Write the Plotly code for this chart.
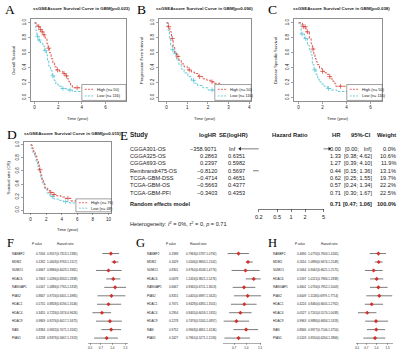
import numpy as np
import plotly.graph_objects as go

W, H = 400, 350
SANS = "Arial, Liberation Sans, Helvetica, sans-serif"
SERIF = "Times New Roman, Liberation Serif, serif"
RED = "#D9463B"
CYAN = "#58C4D5"
INK = "#1b1b1b"
BOX = "#444444"

# ---------------- A-D : Kaplan-Meier curves (time in years, survival) ----------------
A_high_t = [0, 0.15, 0.3, 0.45, 0.6, 0.75, 0.9, 1.05, 1.15, 1.25, 1.4, 1.55, 1.7, 1.85, 2.1, 2.4, 2.6, 2.75, 2.9, 3.05, 3.2, 4.3]
A_high_s = [1.0, 0.97, 0.95, 0.91, 0.88, 0.84, 0.79, 0.72, 0.66, 0.60, 0.52, 0.46, 0.41, 0.37, 0.35, 0.32, 0.29, 0.25, 0.21, 0.16, 0.13, 0.13]
A_high_c = [0.35, 0.5, 0.65, 0.8, 1.2, 1.95, 2.5, 2.7, 3.6]
A_low_t = [0, 0.1, 0.2, 0.3, 0.5, 0.7, 0.85, 1.0, 1.1, 1.2, 1.35, 1.5, 1.65, 1.8, 2.0, 2.3, 2.7, 3.2, 4.2]
A_low_s = [1.0, 0.90, 0.82, 0.77, 0.73, 0.69, 0.63, 0.57, 0.50, 0.42, 0.36, 0.29, 0.23, 0.18, 0.15, 0.12, 0.10, 0.08, 0.08]
A_low_c = [0.25, 0.4, 0.9, 1.55, 2.4, 3.0]

B_high_t = [0, 0.08, 0.16, 0.24, 0.32, 0.4, 0.48, 0.6, 0.71, 0.85, 1.03, 1.2, 1.35, 1.55, 1.75, 1.95, 2.14, 2.3, 2.6]
B_high_s = [1.0, 0.95, 0.88, 0.79, 0.67, 0.60, 0.55, 0.50, 0.45, 0.41, 0.37, 0.34, 0.32, 0.28, 0.25, 0.23, 0.21, 0.19, 0.19]
B_high_c = [0.1, 0.28, 0.55, 1.1, 1.6, 2.2]
B_low_t = [0, 0.08, 0.14, 0.2, 0.28, 0.37, 0.48, 0.6, 0.71, 0.85, 1.03, 1.2, 1.35, 1.5, 1.75, 2.0, 2.5, 3.0, 4.0]
B_low_s = [1.0, 0.90, 0.80, 0.70, 0.64, 0.59, 0.50, 0.44, 0.38, 0.33, 0.28, 0.23, 0.19, 0.16, 0.13, 0.10, 0.08, 0.06, 0.06]
B_low_c = [0.3, 0.45, 1.3, 2.2]

C_high_t = [0, 0.33, 0.63, 0.9, 1.05, 1.15, 1.27, 1.37, 1.47, 1.56, 1.75, 1.97, 2.2, 2.38, 2.55, 2.68, 2.82, 2.95, 3.1, 4.2]
C_high_s = [1.0, 0.95, 0.88, 0.79, 0.72, 0.65, 0.58, 0.52, 0.48, 0.44, 0.39, 0.35, 0.33, 0.31, 0.28, 0.25, 0.22, 0.19, 0.15, 0.15]
C_high_c = [0.4, 0.55, 0.75, 1.2, 2.0, 2.6, 3.5]
C_low_t = [0, 0.22, 0.5, 0.74, 0.9, 1.04, 1.15, 1.3, 1.45, 1.6, 1.72, 1.9, 2.13, 2.4, 2.68, 3.2, 4.2]
C_low_s = [1.0, 0.85, 0.79, 0.70, 0.64, 0.57, 0.44, 0.37, 0.31, 0.25, 0.21, 0.18, 0.15, 0.12, 0.10, 0.08, 0.08]
C_low_c = [0.3, 0.6, 1.35, 2.5]

D_high_t = [0, 0.2, 0.38, 0.6, 0.8, 1.0, 1.14, 1.3, 1.43, 1.65, 1.86, 2.2, 2.5, 2.9, 3.3, 3.9, 4.4, 5.2, 6.1, 7.0]
D_high_s = [1.0, 0.95, 0.90, 0.83, 0.77, 0.69, 0.62, 0.54, 0.47, 0.40, 0.34, 0.30, 0.27, 0.24, 0.22, 0.20, 0.18, 0.14, 0.10, 0.10]
D_high_c = [1.2, 2.6, 3.0, 4.8]
D_low_t = [0, 0.15, 0.3, 0.5, 0.7, 0.9, 1.1, 1.3, 1.5, 1.8, 2.1, 2.5, 3.0, 3.6, 4.2, 5.0, 6.0, 7.5, 9.0]
D_low_s = [1.0, 0.94, 0.88, 0.82, 0.75, 0.67, 0.58, 0.50, 0.42, 0.33, 0.26, 0.21, 0.17, 0.15, 0.13, 0.11, 0.09, 0.07, 0.07]
D_low_c = [2.8, 4.5]

A_title = "ssGSEAscore Survival Curve in GBM(p=0.023)"
B_title = "ssGSEAscore Survival Curve in GBM(p=0.090)"
C_title = "ssGSEAscore Survival Curve in GBM(p=0.038)"
D_title = "ssGSEAscore Survival Curve in GBM(p=0.015)"
A_legend = ["High (n= 50)", "Low (n= 116)"]
B_legend = ["High (n= 50)", "Low (n= 116)"]
C_legend = ["High (n= 50)", "Low (n= 116)"]
D_legend = ["High (n= 76)", "Low (n= 48)"]
A_xticks = [0, 2, 4, 6]
B_xticks = [0, 1, 2, 3, 4]
C_xticks = [0, 2, 4, 6]
D_xticks = [0, 2, 4, 6, 8, 10]
Y_ticks = [0.0, 0.2, 0.4, 0.6, 0.8, 1.0]

# ---------------- E : meta-analysis ----------------
E_study = ["CGGA301-OS", "CGGA325-OS", "CGGA693-OS", "Rembrandt475-OS",
           "TCGA-GBM-DSS", "TCGA-GBM-OS", "TCGA-GBM-PFI"]
E_loghr = [-358.9071, 0.2863, 0.2397, -0.8120, -0.4714, -0.5663, -0.3403]
E_se = [float("inf"), 0.6351, 0.5982, 0.5697, 0.4651, 0.4377, 0.4353]
E_hr = [0.00, 1.33, 1.27, 0.44, 0.62, 0.57, 0.71]
E_lo = [0.00, 0.38, 0.39, 0.15, 0.25, 0.24, 0.30]
E_hi = [float("inf"), 4.62, 4.10, 1.36, 1.55, 1.34, 1.67]
E_weight = [0.0, 10.6, 11.9, 13.1, 19.7, 22.2, 22.5]
E_re = [0.71, 0.47, 1.06]
E_ticks = [0.2, 0.5, 1, 2, 5]

# ---------------- F-H : gene forest tables ----------------
genes = ["RANBP2", "MDM2", "SUMO1", "HDAC6", "RANGAP1", "PIAS2", "HDAC1", "HDAC4", "HDAC9", "RAN", "PIAS1"]
F_p = ["0.7056", "0.1332", "0.6667", "0.7663", "0.0167", "0.8847", "0.5755", "0.3455", "0.9869", "0.8384", "0.3238"]
F_hr = [0.9557, 1.0643, 0.8866, 1.0296, 1.0886, 0.9716, 0.8858, 0.7226, 0.9276, 0.9632, 0.8379]
F_lo = [0.7313, 0.9763, 0.6023, 0.8263, 0.7765, 0.6301, 0.6194, 0.5374, 0.6017, 0.7071, 0.5667]
F_hi = [1.2385, 1.2117, 1.3361, 1.2838, 1.5318, 1.4985, 1.3146, 0.9626, 1.3475, 1.3162, 1.1913]
G_p = ["0.1998", "0.1629", "0.8301", "0.0678", "0.6667", "0.8315", "0.7675", "0.2954", "0.1278", "0.9752", "0.1627"]
G_hr = [0.7963, 1.0506, 0.9760, 1.2416, 0.9345, 1.0405, 0.9428, 0.8405, 0.7476, 0.9943, 0.7961]
G_lo = [0.5787, 0.9863, 0.6508, 0.9821, 0.6711, 0.6987, 0.6385, 0.6059, 0.5165, 0.6861, 0.5271]
G_hi = [1.0792, 1.2102, 1.4774, 1.5276, 1.3013, 1.5625, 1.3501, 1.1655, 1.0857, 1.4136, 1.1136]
H_p = ["0.4690", "0.2610", "0.5664", "0.5597", "0.4602", "0.6009", "0.4224", "0.0527", "0.9963", "0.8846", "0.5203"]
H_hr = [1.0776, 1.0896, 0.9062, 1.0121, 1.0756, 1.1118, 0.8460, 0.7201, 0.9886, 0.9977, 0.9550]
H_lo = [0.7903, 0.9474, 0.6621, 0.7984, 0.7952, 0.6979, 0.6605, 0.5170, 0.6684, 0.7106, 0.6264]
H_hi = [1.4165, 1.2548, 1.2575, 1.2838, 1.5003, 1.7714, 1.2762, 1.0038, 1.5318, 1.3754, 1.3866]
FGH_ticks = [0.5, 0.7, 1.0, 1.5]

# =====================================================================
fig = go.Figure()
layout = {}
ann = []
shapes = []


def dom_x(l, r):
    return [l / W, r / W]


def dom_y(t, b):
    return [1 - b / H, 1 - t / H]


def sfx(n):
    return "" if n == 1 else str(n)


def text(x, y, s, size, anchor="left", bold=False, font=SANS, color=INK, angle=0):
    ann.append(dict(x=x / W, y=1 - y / H, xref="paper", yref="paper",
                    text=f"<b>{s}</b>" if bold else s, showarrow=False,
                    xanchor=anchor, yanchor="middle", borderpad=0, textangle=angle,
                    font=dict(size=size, family=font, color=color)))


def step_at(ts, ss, c):
    i = int(np.searchsorted(np.asarray(ts), c, side="right") - 1)
    return ss[i]


KM = [
    dict(n=1, letter="A", lxy=(6, 8), box=(27, 124, 17, 100), t0=31, ppy=12.0, v1=21, v0=96,
         xt=A_xticks, title=A_title, tx=79, ty=7, ylab="Overall Survival", ylx=9,
         high=(A_high_t, A_high_s, A_high_c), low=(A_low_t, A_low_s, A_low_c),
         leg=(79, 124, 83, 99), legtxt=A_legend),
    dict(n=2, letter="B", lxy=(139.5, 8), box=(157, 251, 17, 100), t0=165, ppy=21.0, v1=21, v0=96,
         xt=B_xticks, title=B_title, tx=204, ty=7, ylab="Progression Free Interval", ylx=139,
         high=(B_high_t, B_high_s, B_high_c), low=(B_low_t, B_low_s, B_low_c),
         leg=(214, 251, 83, 99), legtxt=B_legend),
    dict(n=3, letter="C", lxy=(273, 8), box=(294, 384, 17, 100), t0=299, ppy=12.2, v1=21, v0=96,
         xt=C_xticks, title=C_title, tx=343, ty=7, ylab="Disease Specific Survival", ylx=275,
         high=(C_high_t, C_high_s, C_high_c), low=(C_low_t, C_low_s, C_low_c),
         leg=(348, 384, 83, 99), legtxt=C_legend),
    dict(n=4, letter="D", lxy=(8, 133), box=(20, 109, 141, 212), t0=27, ppy=7.9, v1=143.7, v0=209.3,
         xt=D_xticks, title=D_title, tx=70, ty=132, ylab="Survival rate (OS)", ylx=5,
         high=(D_high_t, D_high_s, D_high_c), low=(D_low_t, D_low_s, D_low_c),
         leg=(73, 109, 198, 211), legtxt=D_legend),
]

for p in KM:
    n = p["n"]
    l, r, t, b = p["box"]
    xr = [(l - p["t0"]) / p["ppy"], (r - p["t0"]) / p["ppy"]]
    span = p["v0"] - p["v1"]
    yr = [(p["v0"] - b) / span, (p["v0"] - t) / span]
    for (ts, ss, cs), col in ((p["low"], CYAN), (p["high"], RED)):
        fig.add_trace(go.Scatter(x=ts, y=ss, mode="lines", line=dict(color=col, width=0.9, dash="2.5px,1.5px", shape="hv"),
                                 xaxis="x" + sfx(n), yaxis="y" + sfx(n), hoverinfo="skip"))
        fig.add_trace(go.Scatter(x=cs, y=[step_at(ts, ss, c) for c in cs], mode="markers",
                                 marker=dict(symbol="cross-thin", size=3.5, line=dict(color=col, width=0.7)),
                                 xaxis="x" + sfx(n), yaxis="y" + sfx(n), hoverinfo="skip"))
    common = dict(showline=True, mirror=True, linecolor=BOX, linewidth=0.6, ticks="outside", ticklen=2,
                  tickwidth=0.5, tickcolor=BOX, showgrid=False, zeroline=False,
                  tickfont=dict(size=4.5, family=SANS, color=INK))
    layout["xaxis" + sfx(n)] = dict(domain=dom_x(l, r), range=xr, tickvals=p["xt"], anchor="y" + sfx(n), **common)
    layout["yaxis" + sfx(n)] = dict(domain=dom_y(t, b), range=yr, tickvals=Y_ticks,
                                    ticktext=[f"{v:.1f}" for v in Y_ticks], tickangle=-90,
                                    anchor="x" + sfx(n), **common)
    text(p["lxy"][0], p["lxy"][1], p["letter"], 13.5, anchor="center", font=SERIF, color="#000")
    text(p["tx"], p["ty"], p["title"], 4.4, anchor="center", bold=True)
    text(p["ylx"], (t + b) / 2, p["ylab"], 4.2, anchor="center", angle=-90)
    text((l + r) / 2, b + 17, "Time (year)", 4.2, anchor="center")
    ll, lr, lt, lb = p["leg"]
    shapes.append(dict(type="rect", xref="paper", yref="paper", x0=ll / W, x1=lr / W, y0=1 - lb / H, y1=1 - lt / H,
                       line=dict(color=BOX, width=0.5), fillcolor="white", layer="above"))
    for k, (lab, col) in enumerate(zip(p["legtxt"], (RED, CYAN))):
        yy = lt + (lb - lt) * (0.3 + 0.42 * k)
        shapes.append(dict(type="line", xref="paper", yref="paper", x0=(ll + 3) / W, x1=(ll + 12) / W,
                           y0=1 - yy / H, y1=1 - yy / H, line=dict(color=col, width=0.8, dash="2px,1.2px"), layer="above"))
        text(ll + 14, yy, lab, 4.0)

# ---------------- E ----------------
E_one, E_ppd = 291.5, 47.0
E_row0, E_step = 147.7, 7.35
E_top, E_bot = 141, 208


def e_idx(py):
    return (py - E_row0) / E_step


re_idx = e_idx(202.7)
x5_l, x5_r = 239, 331
x5_range = [(x5_l - E_one) / E_ppd, (x5_r - E_one) / E_ppd]
layout["xaxis5"] = dict(domain=dom_x(x5_l, x5_r), type="log", range=x5_range, visible=False, anchor="y5")
layout["yaxis5"] = dict(domain=dom_y(E_top, E_bot), range=[e_idx(E_bot), e_idx(E_top)], visible=False, anchor="x5")
t_lo, t_hi = np.log10(E_ticks[0]), np.log10(E_ticks[-1])
layout["xaxis6"] = dict(domain=dom_x(E_one + t_lo * E_ppd - 0.05, E_one + t_hi * E_ppd + 0.05), type="log",
                        range=[t_lo - 0.05 / E_ppd, t_hi + 0.05 / E_ppd], anchor="y5",
                        showline=True, linecolor="#222", linewidth=0.6, ticks="outside", ticklen=3, tickwidth=0.6,
                        tickcolor="#222", tickvals=E_ticks, ticktext=[f"{v:g}" for v in E_ticks],
                        showgrid=False, zeroline=False, tickfont=dict(size=5.6, family=SANS, color=INK))
fig.add_trace(go.Scatter(x=[1], y=[e_idx(E_bot)], mode="markers", marker=dict(opacity=0),
                         xaxis="x6", yaxis="y5", hoverinfo="skip"))

# reference line at HR = 1
fig.add_trace(go.Scatter(x=[1, 1], y=[-0.8, e_idx(E_bot)], mode="lines", line=dict(color="#333", width=0.6),
                         xaxis="x5", yaxis="y5", hoverinfo="skip"))
# CIs (finite)
cx, cy = [], []
for i in range(len(E_study)):
    if np.isfinite(E_hi[i]) and E_lo[i] > 0:
        cx += [E_lo[i], E_hi[i], None]
        cy += [i, i, None]
fig.add_trace(go.Scatter(x=cx, y=cy, mode="lines", line=dict(color="#222", width=0.6),
                         xaxis="x5", yaxis="y5", hoverinfo="skip"))
# infinite CI -> arrow across
ends = [10 ** x5_range[0] * 1.03, 10 ** x5_range[1] / 1.03]
fig.add_trace(go.Scatter(x=ends, y=[0, 0], mode="lines+markers", cliponaxis=False,
                         line=dict(color="#222", width=0.6),
                         marker=dict(symbol=["triangle-left", "triangle-right"], size=3.5, color="#222"),
                         xaxis="x5", yaxis="y5", hoverinfo="skip"))
# squares
sq = [i for i in range(len(E_study)) if E_hr[i] > 0]
fig.add_trace(go.Scatter(x=[E_hr[i] for i in sq], y=sq, mode="markers",
                         marker=dict(symbol="square", color="black", size=[1.25 * np.sqrt(E_weight[i]) for i in sq],
                                     line=dict(width=0)),
                         xaxis="x5", yaxis="y5", hoverinfo="skip"))
# diamond
hh = 0.28
fig.add_trace(go.Scatter(x=[E_re[1], E_re[0], E_re[2], E_re[0], E_re[1]],
                         y=[re_idx, re_idx - hh, re_idx, re_idx + hh, re_idx], mode="lines", fill="toself",
                         fillcolor="#E0201B", line=dict(color="#B01010", width=0.5),
                         xaxis="x5", yaxis="y5", hoverinfo="skip"))

NB = "\u00a0"
fs = 5.6
hs = 5.8
hy = 134
text(121.5, 134.5, "E", 13, anchor="center", font=SERIF, color="#000")
text(127, hy, "Study", 6.4, bold=True)
text(217, hy, "logHR", hs, anchor="right", bold=True)
text(249, hy, "SE(logHR)", hs, anchor="right", bold=True)
text(290, hy, "Hazard Ratio", hs, anchor="center", bold=True)
text(343, hy, "HR", hs, anchor="right", bold=True)
text(362, hy, "95%-CI", hs, anchor="center", bold=True)
text(399, hy, "Weight", hs, anchor="right", bold=True)


def fmt_num(v, d):
    s = f"{v:.{d}f}"
    return s.replace("-", "\u2212")


for i, st in enumerate(E_study):
    yy = E_row0 + E_step * i
    text(127, yy, st, fs)
    text(217, yy, fmt_num(E_loghr[i], 4), fs, anchor="right")
    if np.isfinite(E_se[i]):
        text(246, yy, f"{E_se[i]:.4f}", fs, anchor="right")
    else:
        text(237, yy, "Inf", fs, anchor="right")
    text(343, yy, f"{E_hr[i]:.2f}", fs, anchor="right")
    hi_s = f"{E_hi[i]:.2f}" if np.isfinite(E_hi[i]) else NB + NB + "Inf"
    text(375, yy, f"[{E_lo[i]:.2f};{NB}{hi_s}]", fs, anchor="right")
    text(399, yy, f"{E_weight[i]:.1f}%", fs, anchor="right")

ry = 202.7
text(127, ry, "Random effects model", fs, bold=True)
text(343, ry, f"{E_re[0]:.2f}", fs, anchor="right", bold=True)
text(375, ry, f"[{E_re[1]:.2f};{NB}{E_re[2]:.2f}]", fs, anchor="right", bold=True)
text(399, ry, f"{sum(E_weight):.1f}%", fs, anchor="right", bold=True)
text(127, 223, "Heterogeneity: <i>I</i><sup>2</sup> = 0%, <i>\u03c4</i><sup>2</sup> = 0, <i>p</i> = 0.71", fs)

# ---------------- F, G, H ----------------
FGH = [
    dict(n=7, letter="F", lx=6.5, gx=7, px_=31, hx=43, hp=33, hh=62, dom=(85, 126), one=110, ppd=75,
         p=F_p, hr=F_hr, lo=F_lo, hi=F_hi),
    dict(n=8, letter="G", lx=139, gx=144, px_=166, hx=184, hp=170, hh=197, dom=(222, 261), one=246, ppd=80,
         p=G_p, hr=G_hr, lo=G_lo, hi=G_hi),
    dict(n=9, letter="H", lx=272.5, gx=272, px_=296, hx=308, hp=301, hh=330, dom=(357, 395), one=378, ppd=65,
         p=H_p, hr=H_hr, lo=H_lo, hi=H_hi),
]
R0, RS = 253.0, 8.5
FT, FB = 247, 343


def f_idx(py):
    return (py - R0) / RS


for q in FGH:
    n = q["n"]
    l, r = q["dom"]
    layout[f"xaxis{n}"] = dict(domain=dom_x(l, r), type="log",
                               range=[(l - q["one"]) / q["ppd"], (r - q["one"]) / q["ppd"]],
                               anchor=f"y{n}", showline=True, linecolor="#333", linewidth=0.4, ticks="outside",
                               ticklen=1.5, tickwidth=0.4, tickcolor="#333", tickvals=FGH_ticks,
                               ticktext=[f"{v:.1f}" for v in FGH_ticks], showgrid=False, zeroline=False,
                               tickfont=dict(size=3, family=SANS, color=INK))
    layout[f"yaxis{n}"] = dict(domain=dom_y(FT, FB), range=[f_idx(FB), f_idx(FT)], visible=False, anchor=f"x{n}")
    cx, cy = [], []
    for i in range(len(genes)):
        cx += [q["lo"][i], q["hi"][i], None]
        cy += [i, i, None]
    fig.add_trace(go.Scatter(x=cx, y=cy, mode="lines", line=dict(color="#222", width=0.6),
                             xaxis=f"x{n}", yaxis=f"y{n}", hoverinfo="skip"))
    fig.add_trace(go.Scatter(x=q["hr"], y=list(range(len(genes))), mode="markers",
                             marker=dict(symbol="diamond", size=3.2, color="#D2302A", line=dict(width=0)),
                             xaxis=f"x{n}", yaxis=f"y{n}", hoverinfo="skip"))
    text(q["lx"], 242.5, q["letter"], 12.5, anchor="center", font=SERIF, color="#000")
    text(q["hp"], 243, "P value", 3.0, anchor="center")
    text(q["hh"], 243, "Hazard ratio", 3.0, anchor="center")
    for i, g in enumerate(genes):
        yy = R0 + RS * i
        text(q["gx"], yy, g, 3.1)
        text(q["px_"], yy, q["p"][i], 3.0)
        text(q["hx"], yy, f"{q['hr'][i]:.4f}({q['lo'][i]:.4f}-{q['hi'][i]:.4f})", 3.0)

fig.update_layout(width=W, height=H, margin=dict(l=0, r=0, t=0, b=0), paper_bgcolor="white",
                  plot_bgcolor="white", showlegend=False, hovermode=False,
                  annotations=ann, shapes=shapes, **layout)
fig.write_html("out.html", config={"displayModeBar": False, "staticPlot": True},
               post_script="document.body.style.margin='0';document.body.style.padding='0';"
                           "document.body.style.overflow='hidden';")
